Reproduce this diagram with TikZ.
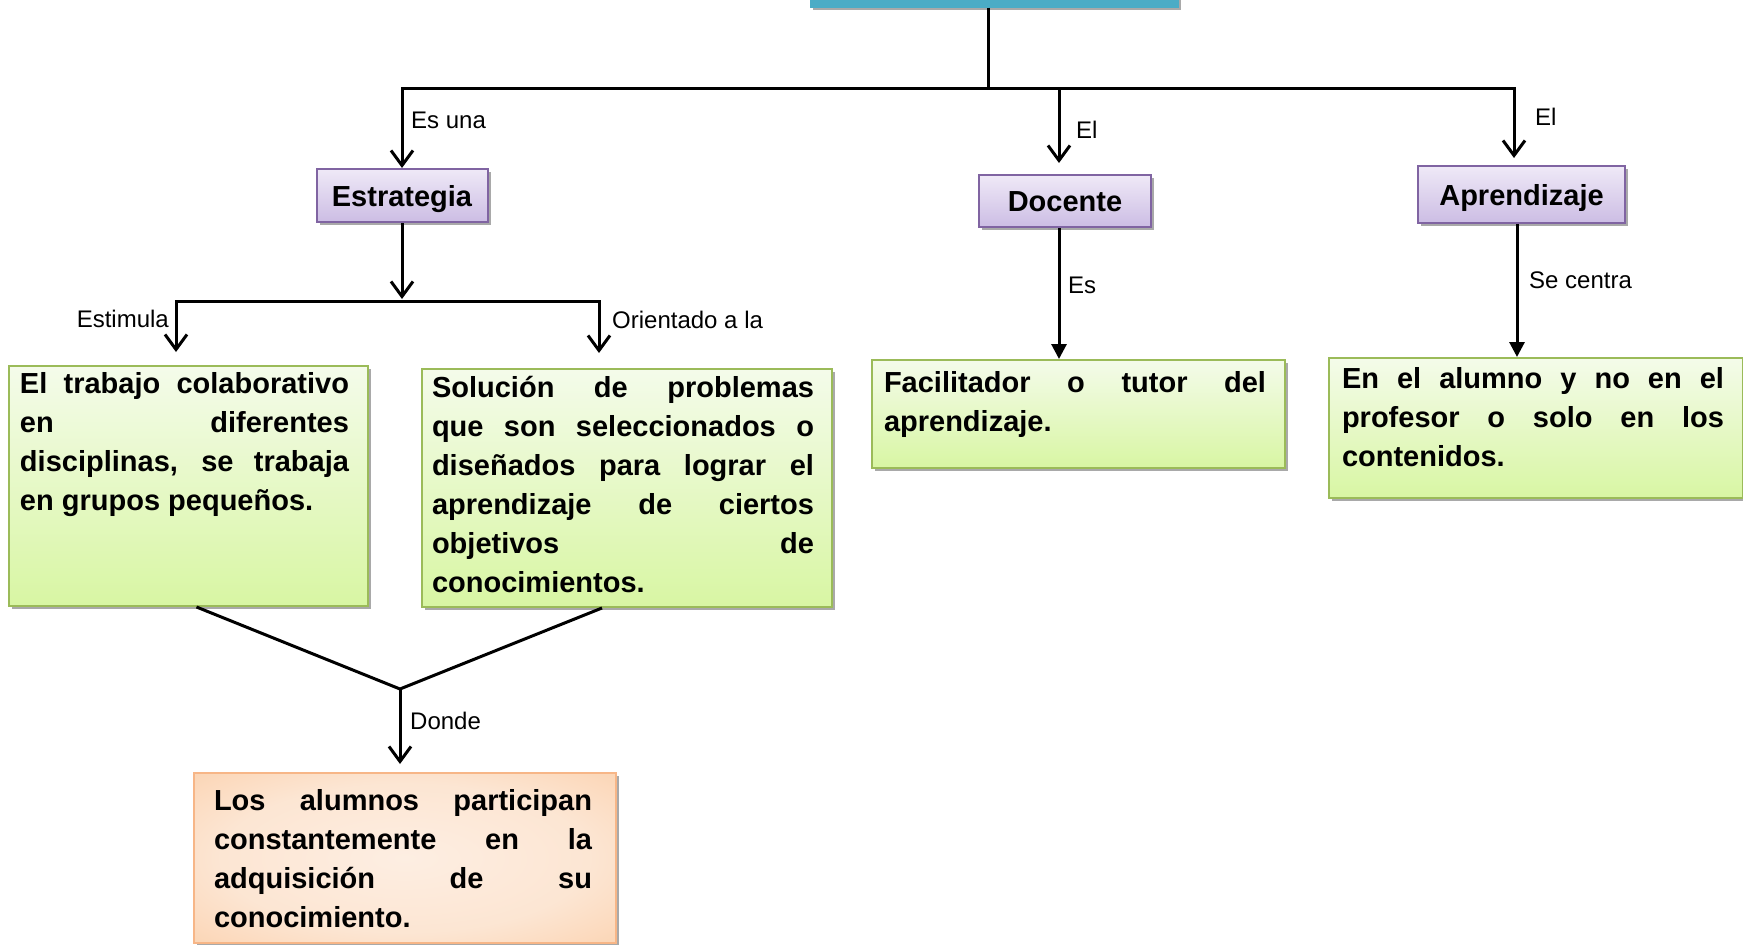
\documentclass[tikz,border=0pt]{standalone}
\usepackage{fontspec}
\setmainfont{Liberation Sans}
\usetikzlibrary{arrows.meta,shadows}
\definecolor{gbord}{RGB}{155,187,89}
\definecolor{gtop}{RGB}{244,251,234}
\definecolor{gbot}{RGB}{216,246,163}
\definecolor{pbord}{RGB}{128,100,162}
\definecolor{ptop}{RGB}{239,233,247}
\definecolor{pbot}{RGB}{204,189,228}
\definecolor{obord}{RGB}{247,182,135}
\definecolor{oin}{RGB}{253,238,226}
\definecolor{oout}{RGB}{250,196,150}
\definecolor{tblue}{RGB}{75,172,198}
\definecolor{shgray}{RGB}{160,160,160}
\pgfdeclareradialshading{orsh}{\pgfpoint{0bp}{0bp}}{color(0bp)=(oin); color(22bp)=(oin!80!oout); color(50bp)=(oout); color(100bp)=(oout)}
\newcommand{\gtxt}[6]{\hspace*{#1pt}\parbox[b][#4pt][t]{#2pt}{\fontsize{29}{39}\selectfont\bfseries\tolerance=10000\hbadness=10000\hyphenpenalty=10000\rule{0pt}{#5pt}#6}\hspace*{#3pt}}
\begin{document}
\begin{tikzpicture}[x=1pt,y=-1pt,
  line/.style={line width=3pt},
  barb/.style={-{Straight Barb[length=15pt,width=22pt]}},
  barbs/.style={{Straight Barb[length=15pt,width=22pt]}-{Straight Barb[length=15pt,width=22pt]}},
  tri/.style={-{Triangle[length=15pt,width=15pt]}},
  sh/.style={drop shadow={shadow xshift=3pt,shadow yshift=-3pt,fill=shgray,opacity=0.9}},
  green/.style={sh,draw=gbord,line width=2pt,top color=gtop,bottom color=gbot,inner sep=0pt,anchor=north west},
  orange/.style={sh,draw=obord,line width=2pt,shading=orsh,inner sep=0pt,anchor=north west},
  purp/.style={sh,draw=pbord,line width=2pt,top color=ptop,bottom color=pbot,inner sep=0pt,
    font=\fontsize{29}{35}\selectfont\bfseries,text height=21pt,text depth=0pt},
  topbox/.style={sh,fill=tblue,draw=tblue,line width=1pt,minimum width=368pt,minimum height=54pt},
  lbl/.style={font=\fontsize{24}{28}\selectfont,inner sep=0pt,text height=17pt,text depth=0pt}
]
\useasboundingbox (0,0) rectangle (1743,945);
\fill[white] (0,0) rectangle (1743,945);

% top box (cut by the page edge)
\node[topbox] (top) at (994,-20) {};

% category boxes
\node[purp,minimum width=171pt,minimum height=53pt] (estr) at (402,195.5) {Estrategia};
\node[purp,minimum width=172pt,minimum height=52pt] (doc) at (1065,201) {Docente};
\node[purp,minimum width=207pt,minimum height=57pt] (apr) at (1521.5,194.5) {Aprendizaje};

% content boxes
\node[green] (b1) at (8,365) {\gtxt{11}{329}{19}{240}{27}{El trabajo colaborativo\linebreak en diferentes\linebreak disciplinas, se trabaja\linebreak en grupos pequeños.}};
\node[green] (b2) at (421,368) {\gtxt{10}{382}{18}{238}{28}{Solución de problemas\linebreak que son seleccionados o\linebreak diseñados para lograr el\linebreak aprendizaje de ciertos\linebreak objetivos de\linebreak conocimientos.}};
\node[green] (b3) at (871,359) {\gtxt{12}{382}{19}{108}{32}{Facilitador o tutor del\linebreak aprendizaje.}};
\node[green] (b4) at (1328,357) {\gtxt{13}{382}{19}{140}{30}{En el alumno y no en el\linebreak profesor o solo en los\linebreak contenidos.}};
\node[orange] (ob) at (193,772) {\gtxt{20}{378}{24}{170}{37}{Los alumnos participan\linebreak constantemente en la\linebreak adquisición de su\linebreak conocimiento.}};

% coordinates
\coordinate (hub0) at (988,88);
\coordinate (aCorner) at (1514,88);
\coordinate (aTip) at (1514,158);
\coordinate (dBar) at (1059,88);
\coordinate (dTip) at (1059,163);
\coordinate (eTip) at (402,299);
\coordinate (lowL) at (176,301);
\coordinate (lowR) at (599,301);
\coordinate (lTipL) at (176,352);
\coordinate (lTipR) at (599,353);
\coordinate (acol) at (1517,300);
\coordinate (vhub) at (400,689);
\coordinate (oTip) at (400,764);

% connectors
\draw[line] (top.south -| hub0) -- (hub0);
\draw[line,barbs] (estr.north) -- (estr.north |- hub0) -- (aCorner) -- (aTip);
\draw[line,barb] (dBar) -- (dTip);
\draw[line,barb] (estr.south) -- (eTip);
\draw[line,barbs] (lTipL) -- (lowL) -- (lowR) -- (lTipR);
\draw[line,tri] (dTip |- doc.south) -- (dTip |- b3.north);
\draw[line,tri] (acol |- apr.south) -- (acol |- b4.north);
\draw[line] ([xshift=8pt]b1.south) -- (vhub) -- ([xshift=-25pt]b2.south);
\draw[line,barb] (vhub) -- (oTip);

% labels
\node[lbl,anchor=west] (l1) at (411,120) {Es una};
\node[lbl,anchor=west] (l2) at (1076,130) {El};
\node[lbl,anchor=west] (l3) at (1535,117) {El};
\node[lbl,anchor=east] (l4) at (169,319) {Estimula};
\node[lbl,anchor=west] (l5) at (612,320) {Orientado a la};
\node[lbl,anchor=west] (l6) at (1068,285) {Es};
\node[lbl,anchor=west] (l7) at (1529,280) {Se centra};
\node[lbl,anchor=west] (l8) at (410,721) {Donde};
\end{tikzpicture}
\end{document}
